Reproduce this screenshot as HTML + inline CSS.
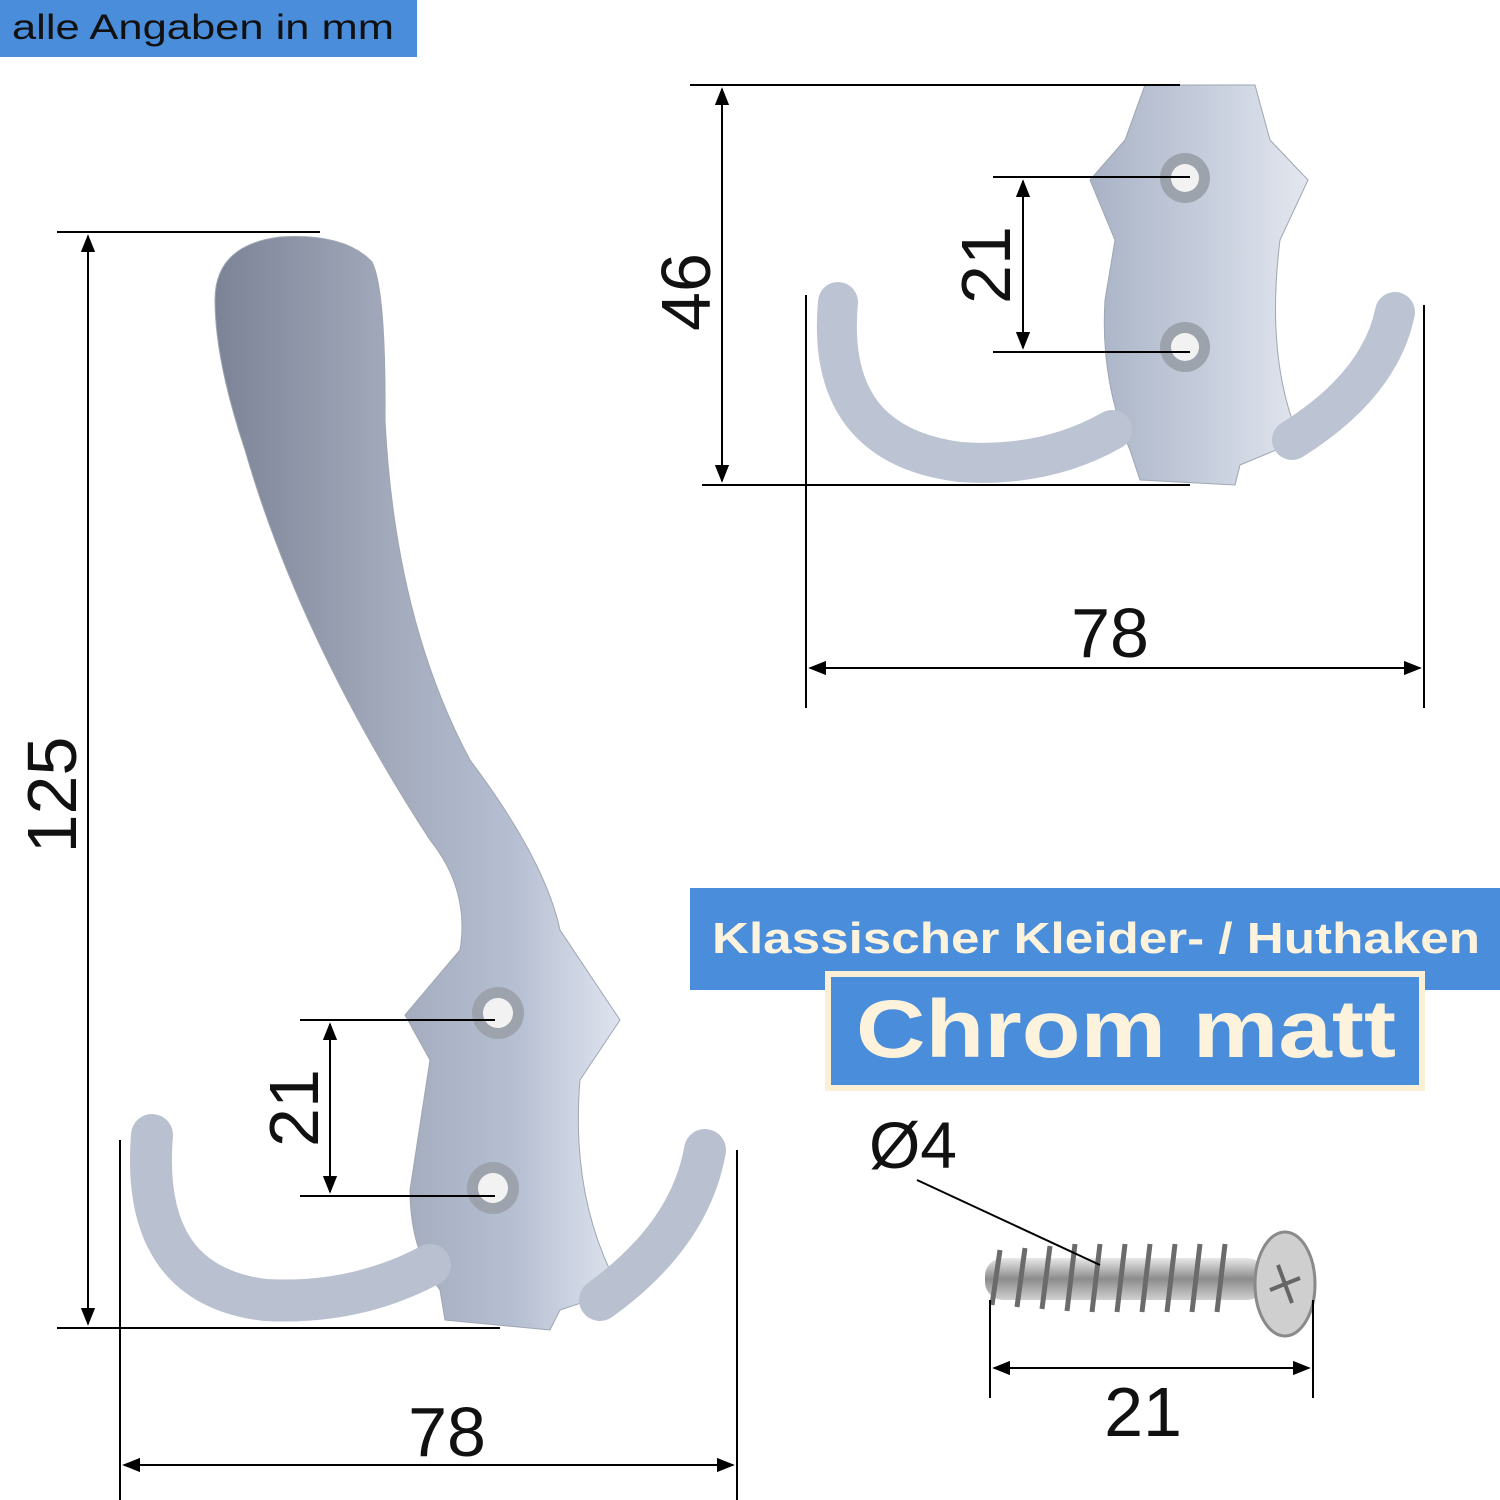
<!DOCTYPE html>
<html><head><meta charset="utf-8"><style>
html,body{margin:0;padding:0;background:#fff}
svg{display:block}
text{font-family:"Liberation Sans",sans-serif}
</style></head><body>
<svg width="1500" height="1500" viewBox="0 0 1500 1500" xmlns="http://www.w3.org/2000/svg">
<defs>
<linearGradient id="g" x1="0" y1="0" x2="1" y2="0">
<stop offset="0" stop-color="#7c8396"/><stop offset="0.45" stop-color="#a3abbd"/><stop offset="0.75" stop-color="#b7c0d3"/><stop offset="1" stop-color="#dfe4ee"/>
</linearGradient>
<linearGradient id="g2" x1="0" y1="0" x2="1" y2="0">
<stop offset="0" stop-color="#aab3c6"/><stop offset="0.5" stop-color="#c4ccdb"/><stop offset="1" stop-color="#e3e7ef"/>
</linearGradient>
<linearGradient id="s" x1="0" y1="0" x2="0" y2="1">
<stop offset="0" stop-color="#e8e8e8"/><stop offset="0.5" stop-color="#8c8c8c"/><stop offset="1" stop-color="#d0d0d0"/>
</linearGradient>
<marker id="a" viewBox="0 0 10 10" refX="9" refY="5" markerWidth="9" markerHeight="9" orient="auto-start-reverse"><path d="M0,1 L10,5 L0,9 Z" fill="#000"/></marker>
</defs>
<rect x="0" y="0" width="417" height="57" fill="#4a8ddb"/>
<text x="12" y="39" font-size="35" fill="#111" textLength="382" lengthAdjust="spacingAndGlyphs">alle Angaben in mm</text>

<path d="M215,300 Q215,245 280,237 Q345,233 372,262 Q386,290 385,420 Q395,620 470,760 Q545,860 560,930 L620,1020 L580,1080 Q570,1200 620,1290 L560,1310 L550,1330 L445,1320 L440,1290 Q410,1250 410,1190 L430,1060 L405,1015 L460,950 Q470,890 430,840 Q300,640 245,450 Q215,360 215,300 Z" fill="url(#g)" stroke="#9ea6b2"/>
<g fill="none" stroke="#b9c1d1" stroke-width="42" stroke-linecap="round">
<path d="M152,1135 Q140,1285 265,1300 Q355,1305 430,1265"/>
<path d="M600,1300 Q690,1235 705,1150"/>
</g>
<circle cx="498" cy="1013" r="26" fill="#9da3ad"/><circle cx="498" cy="1013" r="15" fill="#f2f2f2"/>
<circle cx="493" cy="1188" r="26" fill="#9da3ad"/><circle cx="493" cy="1188" r="15" fill="#f2f2f2"/>

<path d="M1145,85 L1255,85 L1270,140 L1308,180 L1280,240 Q1265,360 1300,440 L1240,465 L1235,485 L1140,480 L1130,450 Q1100,380 1105,300 L1115,240 L1090,180 L1125,140 Z" fill="url(#g2)" stroke="#9ea6b2"/>
<g fill="none" stroke="#bcc4d4" stroke-width="40" stroke-linecap="round">
<path d="M838,302 Q825,445 960,462 Q1045,468 1112,430"/>
<path d="M1292,440 Q1380,385 1395,312"/>
</g>
<circle cx="1185" cy="178" r="25" fill="#9da3ad"/><circle cx="1185" cy="178" r="14" fill="#f2f2f2"/>
<circle cx="1185" cy="347" r="25" fill="#9da3ad"/><circle cx="1185" cy="347" r="14" fill="#f2f2f2"/>

<rect x="985" y="1258" width="280" height="42" rx="18" fill="url(#s)"/>
<g stroke="#6b6b6b" stroke-width="5">
<line x1="1000" y1="1250" x2="992" y2="1305"/><line x1="1025" y1="1248" x2="1017" y2="1307"/><line x1="1050" y1="1246" x2="1042" y2="1309"/><line x1="1075" y1="1244" x2="1067" y2="1311"/><line x1="1100" y1="1244" x2="1092" y2="1312"/><line x1="1125" y1="1244" x2="1117" y2="1312"/><line x1="1150" y1="1244" x2="1142" y2="1312"/><line x1="1175" y1="1244" x2="1167" y2="1312"/><line x1="1200" y1="1244" x2="1192" y2="1312"/><line x1="1225" y1="1244" x2="1217" y2="1312"/>
</g>
<ellipse cx="1285" cy="1284" rx="30" ry="52" fill="#cfcfcf" stroke="#8a8a8a" stroke-width="3"/>
<path d="M1278,1265 L1292,1303 M1270,1290 L1300,1278" stroke="#666" stroke-width="4"/>

<g stroke="#000" stroke-width="2" fill="none">
<line x1="57" y1="232" x2="320" y2="232"/><line x1="57" y1="1328" x2="500" y2="1328"/>
<line x1="88" y1="236" x2="88" y2="1324" marker-start="url(#a)" marker-end="url(#a)"/>
<line x1="120" y1="1140" x2="120" y2="1500"/><line x1="737" y1="1150" x2="737" y2="1500"/>
<line x1="124" y1="1465" x2="733" y2="1465" marker-start="url(#a)" marker-end="url(#a)"/>
<line x1="300" y1="1020" x2="495" y2="1020"/><line x1="300" y1="1196" x2="495" y2="1196"/>
<line x1="330" y1="1024" x2="330" y2="1192" marker-start="url(#a)" marker-end="url(#a)"/>
<line x1="690" y1="85" x2="1180" y2="85"/><line x1="702" y1="485" x2="1190" y2="485"/>
<line x1="722" y1="89" x2="722" y2="481" marker-start="url(#a)" marker-end="url(#a)"/>
<line x1="993" y1="177" x2="1190" y2="177"/><line x1="993" y1="352" x2="1190" y2="352"/>
<line x1="1023" y1="181" x2="1023" y2="348" marker-start="url(#a)" marker-end="url(#a)"/>
<line x1="806" y1="295" x2="806" y2="708"/><line x1="1424" y1="305" x2="1424" y2="708"/>
<line x1="810" y1="668" x2="1420" y2="668" marker-start="url(#a)" marker-end="url(#a)"/>
<line x1="917" y1="1180" x2="1100" y2="1265"/>
<line x1="990" y1="1300" x2="990" y2="1398"/><line x1="1313" y1="1300" x2="1313" y2="1398"/>
<line x1="994" y1="1368" x2="1309" y2="1368" marker-start="url(#a)" marker-end="url(#a)"/>
</g>
<g font-size="70" fill="#111" text-anchor="middle">
<text transform="translate(76,795) rotate(-90)">125</text>
<text x="447" y="1456">78</text>
<text transform="translate(318,1108) rotate(-90)">21</text>
<text transform="translate(710,292) rotate(-90)">46</text>
<text transform="translate(1010,265) rotate(-90)">21</text>
<text x="1110" y="657">78</text>
<text x="913" y="1168" font-size="66">Ø4</text>
<text x="1143" y="1436">21</text>
</g>

<rect x="690" y="888" width="810" height="102" fill="#4a8ddb"/>
<text x="1096" y="953" font-size="44" font-weight="bold" fill="#fdf3dc" text-anchor="middle" textLength="768" lengthAdjust="spacingAndGlyphs">Klassischer Kleider- / Huthaken</text>
<rect x="828" y="974" width="594" height="114" fill="#4a8ddb" stroke="#fbf0d6" stroke-width="6"/>
<text x="1126" y="1057" font-size="82" font-weight="bold" fill="#fdf3dc" text-anchor="middle" textLength="540" lengthAdjust="spacingAndGlyphs">Chrom matt</text>
</svg>
</body></html>
